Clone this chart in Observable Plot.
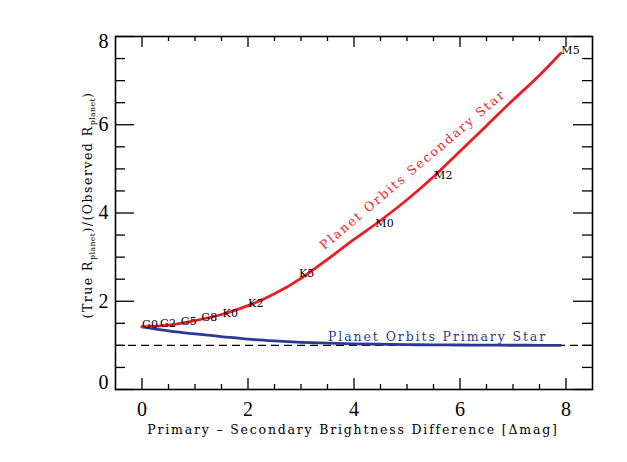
<!DOCTYPE html>
<html>
<head>
<meta charset="utf-8">
<script src="https://cdn.jsdelivr.net/npm/d3@7"></script>
<script src="https://cdn.jsdelivr.net/npm/@observablehq/plot@0.6"></script>
<style>
  html, body { margin: 0; padding: 0; background: #fff; }
  #chart svg { display: block; }
</style>
</head>
<body>
<div id="chart"></div>
<script>
// Δmag sample positions along the curves
const dmag = [0, 0.5, 1, 1.5, 2, 2.5, 3, 3.5, 4, 4.5, 5, 5.5, 6, 6.5, 7, 7.5, 7.9];
// Planet orbits secondary star
const ratioSecondary = [1.42, 1.46, 1.56, 1.70, 1.90, 2.17, 2.52, 2.95, 3.40, 3.83, 4.30, 4.82, 5.40, 5.98, 6.56, 7.12, 7.62];
// Planet orbits primary star
const ratioPrimary = [1.42, 1.33, 1.26, 1.20, 1.14, 1.10, 1.07, 1.05, 1.035, 1.025, 1.017, 1.012, 1.008, 1.005, 1.003, 1.002, 1.001];

// Spectral type markers on the secondary curve
const spectralTypes = ["G0", "G2", "G5", "G8", "K0", "K2", "K5", "M0", "M2", "M5"];
const spectralDmag = [0, 0.34, 0.73, 1.12, 1.52, 2.0, 2.96, 4.40, 5.51, 7.91];
const spectralRatio = [1.43, 1.46, 1.51, 1.59, 1.68, 1.91, 2.59, 3.73, 4.82, 7.64];

const referenceLevel = [1];

const xMajor = [0, 2, 4, 6, 8];
const xMinor = [0.5, 1, 1.5, 2.5, 3, 3.5, 4.5, 5, 5.5, 6.5, 7, 7.5];
const yMajor = [0, 2, 4, 6, 8];
const yMinor = [0.5, 1, 1.5, 2.5, 3, 3.5, 4.5, 5, 5.5, 6.5, 7, 7.5];

const secondaryLabel = ["Planet Orbits Secondary Star"];
const secondaryLabelPos = {x: 5.11, y: 4.98};
const primaryLabel = ["Planet Orbits Primary Star"];
const primaryLabelPos = {x: 3.51, y: 1.20};

const xTitle = "Primary \u2013 Secondary Brightness Difference [\u0394mag]";

const secData = dmag.map((d, i) => ({dmag: d, ratio: ratioSecondary[i]}));
const priData = dmag.map((d, i) => ({dmag: d, ratio: ratioPrimary[i]}));
const specData = spectralTypes.map((t, i) => ({t, dmag: spectralDmag[i], ratio: spectralRatio[i]}));

const W = 627, H = 462;
const mL = 115, mR = 35, mT = 36, mB = 73;
const fw = W - mL - mR, fh = H - mT - mB;

const red = "#ec1c24";
const blue = "#2b3894";
const tickFont = "Liberation Serif, Times New Roman, serif";
const textFont = "DejaVu Serif, serif";

const plot = Plot.plot({
  width: W,
  height: H,
  marginLeft: mL,
  marginRight: mR,
  marginTop: mT,
  marginBottom: mB,
  style: {background: "#fff", color: "#000"},
  x: {domain: [-0.5, 8.5]},
  y: {domain: [0, 8]},
  marks: [
    Plot.ruleY(referenceLevel, {stroke: "#000", strokeWidth: 1.3, strokeDasharray: "8,5"}),
    Plot.line(priData, {x: "dmag", y: "ratio", stroke: blue, strokeWidth: 2.8, curve: "monotone-x"}),
    Plot.line(secData, {x: "dmag", y: "ratio", stroke: red, strokeWidth: 2.8, curve: "monotone-x"}),
    Plot.text(specData, {x: "dmag", y: "ratio", text: "t", textAnchor: "start", lineAnchor: "bottom", dy: 2,
      fill: "#000", fontSize: 11, fontFamily: textFont}),
    Plot.text(secondaryLabel, {x: () => secondaryLabelPos.x, y: () => secondaryLabelPos.y, text: d => d,
      rotate: -40.4, fill: red, fontSize: 12.5, fontFamily: textFont, textAnchor: "middle", lineAnchor: "middle"}),
    Plot.text(primaryLabel, {x: () => primaryLabelPos.x, y: () => primaryLabelPos.y, text: d => d,
      fill: blue, fontSize: 12.5, fontFamily: textFont, textAnchor: "start", lineAnchor: "middle"}),
    Plot.tickY(yMajor, {y: d => d, insetRight: fw - 19, stroke: "#000", strokeWidth: 1.3}),
    Plot.tickY(yMinor, {y: d => d, insetRight: fw - 10, stroke: "#000", strokeWidth: 1.3}),
    Plot.tickY(yMajor, {y: d => d, insetLeft: fw - 19, stroke: "#000", strokeWidth: 1.3}),
    Plot.tickY(yMinor, {y: d => d, insetLeft: fw - 10, stroke: "#000", strokeWidth: 1.3}),
    Plot.tickX(xMajor, {x: d => d, insetTop: fh - 11, stroke: "#000", strokeWidth: 1.3}),
    Plot.tickX(xMinor, {x: d => d, insetTop: fh - 5, stroke: "#000", strokeWidth: 1.3}),
    Plot.tickX(xMajor, {x: d => d, insetBottom: fh - 11, stroke: "#000", strokeWidth: 1.3}),
    Plot.tickX(xMinor, {x: d => d, insetBottom: fh - 5, stroke: "#000", strokeWidth: 1.3}),
    Plot.axisX(xMajor, {tickSize: 0, tickPadding: 12, fontSize: 20, fontFamily: tickFont, label: null}),
    Plot.axisY([2, 4, 6], {tickSize: 0, tickPadding: 7, fontSize: 20, fontFamily: tickFont, label: null}),
    Plot.axisY([8], {tickSize: 0, tickPadding: 7, fontSize: 20, fontFamily: tickFont, label: null, dy: 5}),
    Plot.axisY([0], {tickSize: 0, tickPadding: 7, fontSize: 20, fontFamily: tickFont, label: null, dy: -7}),
    Plot.frame({stroke: "#000", strokeWidth: 1.6})
  ]
});

document.getElementById("chart").appendChild(plot);

const svg = d3.select(plot);
svg.selectAll("text")
  .filter(function() { return this.textContent === secondaryLabel[0] || this.textContent === primaryLabel[0]; })
  .attr("letter-spacing", "1.9px");
svg.selectAll("text")
  .filter(function() { return spectralTypes.includes(this.textContent); })
  .attr("letter-spacing", "0.2px");

// x-axis title
svg.append("text")
  .attr("x", 353)
  .attr("y", 434)
  .attr("text-anchor", "middle")
  .attr("font-family", textFont)
  .attr("font-size", 12.5)
  .attr("letter-spacing", "1.8px")
  .attr("fill", "#000")
  .text(xTitle);

// y-axis title with subscripts
const yt = svg.append("text")
  .attr("transform", "translate(92,205) rotate(-90)")
  .attr("text-anchor", "middle")
  .attr("font-family", textFont)
  .attr("font-size", 12.5)
  .attr("letter-spacing", "1.5px")
  .attr("fill", "#000");
yt.append("tspan").text("(True R");
yt.append("tspan").attr("font-size", 8).attr("dy", 3).attr("letter-spacing", "0.3px").text("planet");
yt.append("tspan").attr("dy", -3).text(")/(Observed R");
yt.append("tspan").attr("font-size", 8).attr("dy", 3).attr("letter-spacing", "0.3px").text("planet");
yt.append("tspan").attr("dy", -3).text(")");
</script>
</body>
</html>
